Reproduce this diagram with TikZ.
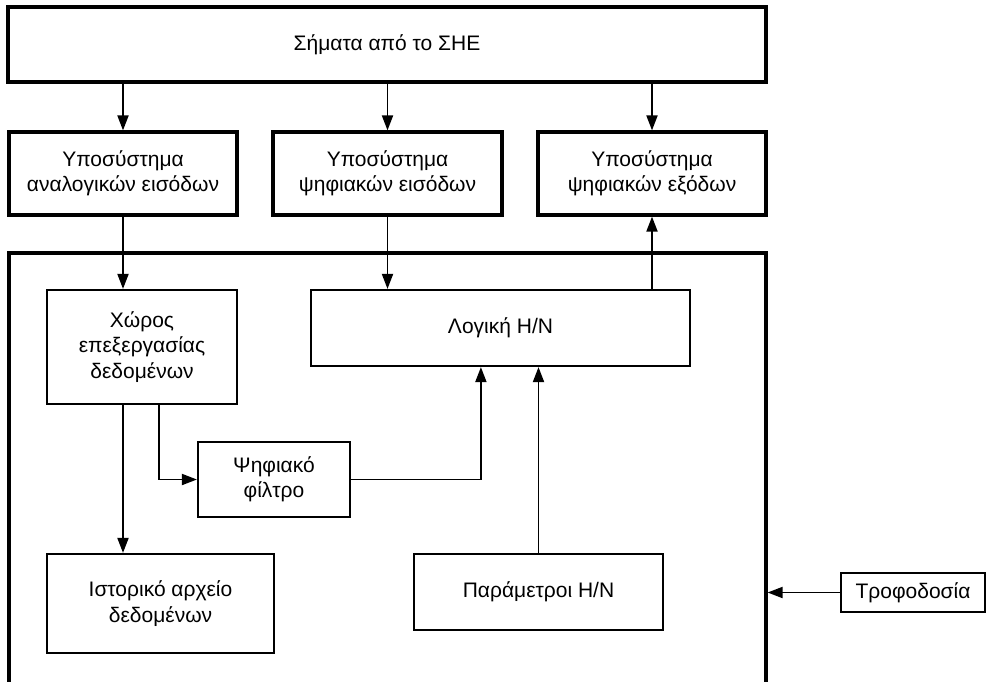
\documentclass[tikz,border=0pt]{standalone}
\usepackage{fontspec}
\setmainfont{Liberation Sans}
\usetikzlibrary{arrows.meta,calc}

\begin{document}
\begin{tikzpicture}[x=1pt,y=-1pt,
  every node/.style={font=\fontsize{21}{25.5}\selectfont},
  blk/.style={draw, inner sep=0pt, align=center, line width=#1},
  blk/.default=2.2pt,
  thickblk/.style={blk=3.2pt},
  arr/.style={line width=1.9pt, -{Triangle[length=15pt,width=11pt]}},
  link/.style={line width=1.9pt}]

\useasboundingbox (0,0) rectangle (987,681);
\clip (0,0) rectangle (987,681);
\fill[white] (0,0) rectangle (987,681);

% top-level signal source
\node[thickblk, minimum width=758pt, minimum height=75pt] (she) at (387,44.5) {Σήματα από το ΣΗΕ};

% input / output subsystems
\node[thickblk, minimum width=228pt, minimum height=83pt] (ain) at (123,173.5) {Υποσύστημα\\αναλογικών εισόδων};
\node[thickblk, minimum width=229pt, minimum height=83pt] (din) at (387.5,173.5) {Υποσύστημα\\ψηφιακών εισόδων};
\node[thickblk, minimum width=228pt, minimum height=83pt] (dout) at (652,173.5) {Υποσύστημα\\ψηφιακών εξόδων};

% enclosing unit (continues below the page edge)
\node[thickblk, minimum width=757pt, minimum height=467pt] (main) at (387.5,486.5) {};

% internal blocks
\node[blk, minimum width=190pt, minimum height=114pt] (proc) at (142,347) {Χώρος\\επεξεργασίας\\δεδομένων};
\node[blk, minimum width=379pt, minimum height=76pt] (logic) at (500.5,328) {Λογική Η/Ν};
\node[blk, minimum width=152pt, minimum height=75pt] (filt) at (274,479.5) {Ψηφιακό\\φίλτρο};
\node[blk, minimum width=227pt, minimum height=99pt] (hist) at (160.5,603.5) {Ιστορικό αρχείο\\δεδομένων};
\node[blk, minimum width=249pt, minimum height=76pt] (par) at (538.5,592) {Παράμετροι Η/Ν};
\node[blk=1.8pt, minimum width=144pt, minimum height=39pt] (power) at (913,592.5) {Τροφοδοσία};

% taps used by the internal connectors
\coordinate (procTap) at ($(proc.south west)+(113,0)$);
\coordinate (logicTap) at ($(logic.south west)+(171,0)$);

% signals to the subsystems
\draw[arr] (she.south -| ain.center) -- (ain.north);
\draw[arr] (she.south -| din.center) -- (din.north);
\draw[arr] (she.south -| dout.center) -- (dout.north);

% subsystems to the unit
\draw[arr] (ain.south) -- (ain.south |- proc.north);
\draw[arr] (din.south) -- (din.south |- logic.north);
\draw[arr] (dout.south |- logic.north) -- (dout.south);

% internal data paths
\draw[arr] (proc.south -| ain.center) -- (hist.north -| ain.center);
\draw[arr] (procTap) |- (filt.west);
\draw[arr] (filt.east) -| (logicTap);
\draw[arr] (par.north) -- (par.north |- logic.south);

% power supply
\draw[arr] (power.west) -- (power.west -| main.east);
\end{tikzpicture}
\end{document}
